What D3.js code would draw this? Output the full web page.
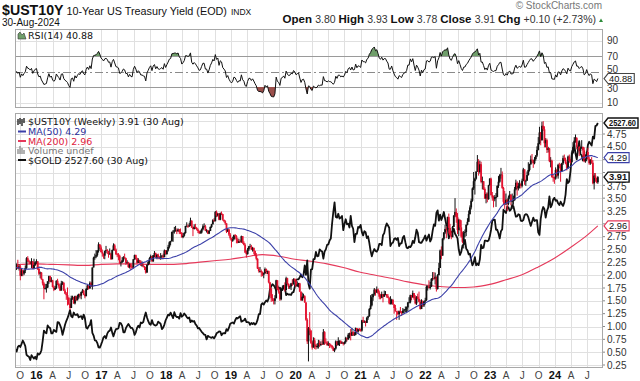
<!DOCTYPE html>
<html><head><meta charset="utf-8">
<script src="https://cdn.jsdelivr.net/npm/d3@7"></script>
<style>body{margin:0;background:#fff}svg{display:block}</style>
</head><body><svg id="c" width="640" height="381"></svg>
<script>
// ---------- DATA ----------
const warmupStart = "2014-09-05";
const warmupCloses = [2.46,2.61,2.58,2.53,2.44,2.31,2.20,2.27,2.34,2.30,2.32,2.31,2.16,2.31,2.08,2.16,2.25,
  2.11,1.95,1.83,1.80,1.64,1.95,2.02,2.13,1.99,2.24,2.11,1.93,1.95,1.84,1.95,1.86,1.91,2.12,2.15,2.14,2.21,2.10,
  2.40,2.39,2.26,2.48,2.38,2.40,2.35,2.26,2.18,2.17,2.19,2.04,2.18];

const yearStarts = ["2015-09-04","2016-01-01","2017-01-06","2018-01-05","2019-01-04","2020-01-03","2021-01-01","2022-01-07","2023-01-06","2024-01-05"];

// $UST10Y weekly [close, high, low]
const ust2015 = [[2.13,2.23,2.12],[2.19,2.23,2.10],[2.13,2.30,2.12],[2.17,2.21,2.09],[1.99,2.20,1.90],[2.09,2.12,1.98],[2.03,2.11,1.98],[2.09,2.10,2.00],[2.14,2.19,2.04],[2.33,2.35,2.12],[2.27,2.37,2.26],[2.26,2.30,2.22],[2.22,2.27,2.21],[2.27,2.33,2.14],[2.13,2.27,2.12],[2.20,2.32,2.16],[2.25,2.27,2.18]];
const ust2016 = [[2.27,2.31,2.22],[2.12,2.27,2.10],[2.03,2.17,2.00],[2.05,2.07,1.94],[1.92,2.06,1.91],[1.84,1.93,1.80],[1.74,1.87,1.53],[1.75,1.83,1.72],[1.76,1.83,1.66],[1.88,1.88,1.75],[1.98,1.99,1.83],[1.87,1.99,1.86],[1.90,1.96,1.86],[1.77,1.91,1.76],[1.72,1.80,1.69],[1.75,1.79,1.71],[1.89,1.90,1.73],[1.83,1.93,1.81],[1.78,1.85,1.74],[1.70,1.80,1.69],[1.84,1.89,1.70],[1.85,1.88,1.81],[1.70,1.87,1.69],[1.64,1.73,1.63],[1.61,1.67,1.52],[1.56,1.76,1.41],[1.44,1.57,1.42],[1.36,1.45,1.32],[1.55,1.60,1.36],[1.57,1.60,1.52],[1.45,1.58,1.44],[1.59,1.60,1.43],[1.51,1.60,1.50],[1.58,1.62,1.52],[1.63,1.64,1.54],[1.60,1.64,1.55],[1.67,1.68,1.53],[1.70,1.73,1.65],[1.62,1.72,1.61],[1.59,1.64,1.55],[1.73,1.75,1.59],[1.80,1.81,1.71],[1.74,1.80,1.72],[1.85,1.88,1.74],[1.78,1.87,1.77],[2.15,2.15,1.72],[2.34,2.36,2.15],[2.36,2.42,2.30],[2.39,2.49,2.33],[2.47,2.49,2.36],[2.60,2.64,2.44],[2.54,2.60,2.50],[2.45,2.58,2.44]];
const ust2017 = [[2.42,2.50,2.36],[2.38,2.41,2.32],[2.47,2.48,2.31],[2.49,2.57,2.43],[2.47,2.51,2.41],[2.41,2.47,2.34],[2.42,2.52,2.40],[2.31,2.44,2.30],[2.49,2.50,2.31],[2.58,2.62,2.48],[2.50,2.61,2.47],[2.41,2.52,2.39],[2.40,2.43,2.35],[2.38,2.43,2.29],[2.24,2.40,2.22],[2.25,2.27,2.17],[2.29,2.35,2.24],[2.35,2.37,2.26],[2.33,2.42,2.32],[2.24,2.34,2.20],[2.25,2.29,2.22],[2.16,2.26,2.14],[2.21,2.23,2.13],[2.16,2.23,2.10],[2.15,2.19,2.13],[2.31,2.31,2.13],[2.39,2.40,2.30],[2.33,2.40,2.30],[2.24,2.34,2.22],[2.29,2.33,2.24],[2.26,2.30,2.23],[2.19,2.29,2.18],[2.19,2.27,2.17],[2.17,2.23,2.15],[2.16,2.18,2.10],[2.05,2.16,2.03],[2.20,2.21,2.05],[2.26,2.29,2.19],[2.33,2.35,2.22],[2.37,2.40,2.32],[2.27,2.37,2.26],[2.39,2.39,2.26],[2.43,2.47,2.35],[2.34,2.44,2.33],[2.40,2.41,2.31],[2.35,2.42,2.31],[2.34,2.37,2.31],[2.36,2.43,2.30],[2.38,2.39,2.31],[2.35,2.42,2.33],[2.48,2.50,2.35],[2.41,2.49,2.40]];
const ust2018 = [[2.48,2.49,2.40],[2.55,2.59,2.46],[2.64,2.66,2.52],[2.66,2.67,2.58],[2.84,2.85,2.66],[2.85,2.88,2.65],[2.87,2.94,2.81],[2.87,2.96,2.85],[2.86,2.91,2.80],[2.89,2.91,2.84],[2.84,2.90,2.80],[2.82,2.91,2.80],[2.74,2.84,2.73],[2.77,2.82,2.72],[2.82,2.84,2.75],[2.96,2.96,2.81],[2.96,3.03,2.95],[2.95,2.99,2.92],[2.97,3.02,2.94],[3.06,3.12,2.96],[2.93,3.07,2.92],[2.90,2.95,2.76],[2.94,2.99,2.89],[2.92,3.00,2.90],[2.89,2.94,2.87],[2.86,2.91,2.82],[2.82,2.87,2.80],[2.83,2.87,2.81],[2.89,2.91,2.81],[2.95,2.99,2.87],[2.95,3.01,2.93],[2.87,2.98,2.86],[2.87,2.90,2.83],[2.81,2.88,2.80],[2.86,2.88,2.80],[2.94,2.95,2.86],[2.99,3.00,2.92],[3.07,3.09,2.99],[3.05,3.11,3.04],[3.23,3.25,3.05],[3.16,3.26,3.13],[3.20,3.21,3.14],[3.08,3.20,3.07],[3.21,3.22,3.07],[3.19,3.24,3.17],[3.08,3.19,3.06],[3.05,3.08,3.03],[3.01,3.07,2.98],[2.85,3.00,2.82],[2.89,2.92,2.84],[2.79,2.90,2.76],[2.72,2.82,2.69]];
const ust2019 = [[2.67,2.73,2.54],[2.70,2.75,2.65],[2.78,2.79,2.68],[2.76,2.80,2.71],[2.69,2.78,2.62],[2.63,2.72,2.62],[2.66,2.71,2.63],[2.65,2.69,2.63],[2.76,2.77,2.63],[2.63,2.76,2.61],[2.59,2.66,2.58],[2.44,2.62,2.43],[2.41,2.48,2.34],[2.50,2.53,2.40],[2.56,2.57,2.47],[2.56,2.61,2.55],[2.50,2.59,2.49],[2.53,2.55,2.46],[2.47,2.54,2.41],[2.39,2.48,2.37],[2.32,2.43,2.29],[2.13,2.33,2.12],[2.08,2.16,2.05],[2.08,2.16,2.05],[2.06,2.11,1.97],[2.01,2.07,1.98],[2.04,2.05,1.94],[2.12,2.15,2.02],[2.06,2.13,2.02],[2.08,2.09,2.02],[1.86,2.09,1.84],[1.74,1.87,1.59],[1.55,1.75,1.48],[1.52,1.63,1.49],[1.50,1.55,1.43],[1.55,1.61,1.43],[1.90,1.91,1.55],[1.72,1.90,1.71],[1.68,1.76,1.64],[1.53,1.69,1.50],[1.73,1.76,1.51],[1.75,1.80,1.70],[1.80,1.81,1.73],[1.71,1.86,1.68],[1.94,1.97,1.71],[1.83,1.95,1.80],[1.77,1.84,1.73],[1.78,1.80,1.73],[1.84,1.85,1.71],[1.82,1.92,1.79],[1.92,1.94,1.84],[1.88,1.94,1.86]];
const ust2020 = [[1.79,1.92,1.77],[1.82,1.88,1.77],[1.84,1.85,1.76],[1.68,1.85,1.67],[1.51,1.68,1.50],[1.58,1.66,1.50],[1.59,1.64,1.55],[1.47,1.61,1.46],[1.13,1.47,1.11],[0.71,1.16,0.66],[0.96,0.99,0.32],[0.92,1.28,0.83],[0.68,0.93,0.66],[0.59,0.71,0.55],[0.73,0.79,0.59],[0.65,0.78,0.56],[0.60,0.65,0.55],[0.62,0.67,0.57],[0.68,0.74,0.57],[0.64,0.73,0.60],[0.66,0.71,0.62],[0.65,0.73,0.64],[0.89,0.95,0.65],[0.70,0.91,0.64],[0.69,0.77,0.66],[0.64,0.72,0.62],[0.67,0.71,0.62],[0.64,0.68,0.58],[0.63,0.66,0.59],[0.59,0.63,0.56],[0.53,0.61,0.52],[0.57,0.58,0.50],[0.71,0.73,0.55],[0.64,0.70,0.62],[0.72,0.79,0.63],[0.72,0.73,0.62],[0.67,0.73,0.66],[0.69,0.71,0.66],[0.66,0.69,0.63],[0.70,0.71,0.65],[0.78,0.80,0.67],[0.75,0.78,0.71],[0.84,0.87,0.74],[0.87,0.88,0.77],[0.82,0.95,0.73],[0.89,0.97,0.84],[0.83,0.91,0.82],[0.84,0.89,0.82],[0.97,0.98,0.83],[0.90,0.96,0.88],[0.95,0.96,0.88],[0.94,0.97,0.91]];
const ust2021 = [[0.92,0.96,0.90],[1.12,1.13,0.90],[1.09,1.19,1.07],[1.09,1.12,1.07],[1.07,1.11,1.00],[1.17,1.19,1.07],[1.20,1.21,1.13],[1.34,1.36,1.19],[1.41,1.61,1.33],[1.57,1.63,1.39],[1.63,1.64,1.50],[1.72,1.75,1.60],[1.66,1.72,1.60],[1.72,1.78,1.66],[1.66,1.74,1.63],[1.58,1.70,1.53],[1.56,1.63,1.53],[1.63,1.68,1.55],[1.58,1.63,1.47],[1.63,1.70,1.58],[1.63,1.69,1.61],[1.59,1.63,1.56],[1.56,1.63,1.55],[1.45,1.57,1.43],[1.45,1.59,1.43],[1.52,1.54,1.43],[1.43,1.53,1.42],[1.36,1.43,1.25],[1.30,1.42,1.29],[1.28,1.30,1.13],[1.24,1.31,1.22],[1.30,1.31,1.13],[1.28,1.38,1.26],[1.26,1.30,1.21],[1.31,1.36,1.25],[1.33,1.34,1.26],[1.34,1.39,1.28],[1.37,1.39,1.26],[1.47,1.47,1.29],[1.47,1.57,1.46],[1.61,1.62,1.45],[1.57,1.61,1.51],[1.65,1.70,1.56],[1.55,1.65,1.52],[1.45,1.61,1.43],[1.58,1.59,1.42],[1.54,1.64,1.53],[1.48,1.68,1.47],[1.34,1.52,1.33],[1.48,1.53,1.36],[1.41,1.51,1.38],[1.49,1.50,1.38],[1.51,1.56,1.43]];
const ust2022 = [[1.77,1.80,1.50],[1.78,1.80,1.70],[1.75,1.90,1.74],[1.78,1.87,1.72],[1.93,1.94,1.77],[1.94,2.06,1.89],[1.93,2.06,1.91],[1.97,2.05,1.82],[1.73,1.86,1.68],[2.00,2.02,1.72],[2.14,2.24,2.00],[2.48,2.50,2.15],[2.38,2.56,2.31],[2.71,2.72,2.38],[2.83,2.84,2.68],[2.90,2.98,2.80],[2.89,2.94,2.72],[3.13,3.14,2.88],[2.92,3.20,2.81],[2.78,3.00,2.77],[2.74,2.86,2.70],[2.94,2.96,2.74],[3.16,3.17,2.96],[3.23,3.50,3.13],[3.13,3.30,3.02],[2.88,3.21,2.80],[3.08,3.10,2.76],[2.93,3.07,2.86],[2.75,3.07,2.73],[2.65,2.85,2.62],[2.83,2.86,2.52],[2.84,2.89,2.74],[2.98,2.99,2.76],[3.04,3.11,2.97],[3.19,3.26,3.04],[3.32,3.36,3.18],[3.45,3.49,3.28],[3.69,3.71,3.43],[3.83,4.01,3.66],[3.88,3.90,3.57],[4.02,4.02,3.86],[4.21,4.34,4.01],[4.01,4.26,3.94],[4.16,4.23,3.98],[3.82,4.21,3.79],[3.83,3.92,3.67],[3.68,3.83,3.66],[3.49,3.71,3.49],[3.58,3.61,3.40],[3.48,3.61,3.42],[3.75,3.76,3.47],[3.88,3.89,3.74]];
const ust2023 = [[3.56,3.90,3.55],[3.51,3.62,3.45],[3.48,3.55,3.32],[3.52,3.56,3.44],[3.52,3.60,3.33],[3.74,3.75,3.52],[3.82,3.93,3.70],[3.95,3.97,3.80],[3.96,4.09,3.88],[3.70,4.02,3.68],[3.43,3.72,3.37],[3.38,3.64,3.29],[3.47,3.59,3.37],[3.39,3.48,3.25],[3.51,3.55,3.36],[3.57,3.64,3.48],[3.44,3.57,3.36],[3.44,3.59,3.29],[3.46,3.55,3.37],[3.67,3.72,3.45],[3.80,3.86,3.65],[3.69,3.83,3.55],[3.74,3.80,3.65],[3.77,3.85,3.69],[3.74,3.80,3.69],[3.84,3.88,3.71],[4.06,4.09,3.83],[3.83,4.05,3.76],[3.84,3.86,3.74],[3.95,4.02,3.84],[4.05,4.20,3.94],[4.16,4.17,4.02],[4.25,4.33,4.15],[4.24,4.36,4.18],[4.18,4.24,4.09],[4.26,4.30,4.16],[4.33,4.34,4.23],[4.44,4.51,4.30],[4.57,4.69,4.43],[4.78,4.89,4.55],[4.63,4.79,4.53],[4.91,4.99,4.62],[4.84,5.00,4.81],[4.57,4.90,4.49],[4.63,4.67,4.49],[4.44,4.66,4.38],[4.47,4.50,4.39],[4.22,4.48,4.20],[4.23,4.30,4.10],[3.91,4.25,3.90],[3.90,3.97,3.82],[3.88,3.92,3.78]];
const ust2024 = [[4.05,4.10,3.86],[3.94,4.07,3.91],[4.15,4.17,3.88],[4.14,4.19,4.08],[4.02,4.17,3.82],[4.18,4.19,4.02],[4.28,4.33,4.15],[4.25,4.35,4.22],[4.18,4.29,4.16],[4.08,4.21,4.04],[4.31,4.33,4.08],[4.22,4.35,4.19],[4.20,4.26,4.18],[4.39,4.43,4.20],[4.50,4.59,4.38],[4.62,4.69,4.50],[4.67,4.74,4.58],[4.50,4.69,4.45],[4.50,4.53,4.42],[4.42,4.51,4.32],[4.47,4.50,4.38],[4.50,4.63,4.46],[4.43,4.49,4.28],[4.22,4.49,4.20],[4.26,4.28,4.19],[4.40,4.41,4.22],[4.27,4.48,4.25],[4.18,4.31,4.15],[4.24,4.26,4.15],[4.19,4.30,4.17],[3.79,4.24,3.77],[3.94,3.99,3.67],[3.89,3.99,3.82],[3.81,3.90,3.79],[3.91,3.93,3.78]];

// $GOLD weekly closes (overlay, same weeks)
const gold2015 = [1121,1108,1137,1145,1137,1156,1177,1162,1142,1088,1081,1076,1056,1086,1075,1065,1076];
const gold2016 = [1061,1097,1090,1097,1117,1173,1239,1227,1222,1271,1259,1255,1221,1222,1243,1235,1231,1291,1290,1273,1252,1213,1243,1275,1298,1316,1339,1366,1328,1322,1351,1336,1336,1341,1321,1326,1328,1310,1338,1316,1257,1251,1267,1274,1304,1225,1208,1178,1177,1161,1134,1133,1152];
const gold2017 = [1173,1197,1205,1191,1220,1234,1238,1258,1226,1203,1229,1248,1249,1254,1287,1284,1268,1228,1228,1254,1268,1280,1267,1255,1256,1242,1212,1228,1255,1269,1258,1289,1285,1292,1325,1351,1320,1297,1280,1275,1304,1280,1272,1270,1275,1294,1288,1280,1248,1257,1276,1303];
const gold2018 = [1320,1338,1333,1350,1333,1316,1353,1330,1323,1324,1313,1347,1325,1332,1345,1335,1323,1315,1320,1291,1302,1294,1298,1279,1270,1253,1256,1242,1231,1223,1214,1212,1184,1206,1201,1197,1194,1199,1191,1203,1222,1227,1234,1233,1210,1222,1223,1222,1248,1238,1257,1281];
const gold2019 = [1286,1289,1282,1303,1318,1314,1322,1328,1294,1299,1302,1313,1292,1291,1290,1275,1286,1280,1286,1276,1284,1305,1341,1341,1400,1409,1400,1415,1426,1419,1440,1497,1513,1527,1520,1507,1488,1517,1497,1505,1489,1490,1505,1511,1459,1468,1462,1464,1460,1476,1478,1511];
const gold2020 = [1552,1557,1557,1571,1587,1570,1584,1643,1585,1674,1530,1499,1617,1620,1683,1683,1727,1700,1702,1743,1735,1730,1685,1730,1743,1771,1774,1798,1810,1902,1975,2035,1944,1940,1964,1934,1940,1950,1862,1900,1930,1899,1902,1879,1951,1889,1871,1788,1839,1840,1882,1878];
const gold2021 = [1895,1850,1829,1856,1850,1813,1824,1784,1734,1700,1727,1745,1733,1729,1744,1777,1777,1769,1831,1844,1881,1904,1891,1877,1764,1781,1784,1808,1812,1802,1814,1763,1780,1781,1817,1827,1788,1754,1750,1761,1757,1768,1796,1783,1818,1865,1846,1788,1784,1784,1798,1811,1829];
const gold2022 = [1797,1818,1835,1792,1808,1859,1898,1889,1969,1985,1921,1958,1925,1946,1975,1934,1897,1883,1811,1846,1853,1851,1871,1840,1827,1811,1742,1708,1727,1766,1775,1802,1747,1737,1712,1716,1675,1644,1661,1695,1644,1656,1645,1681,1771,1751,1754,1797,1797,1793,1798,1824];
const gold2023 = [1865,1920,1926,1928,1865,1865,1842,1811,1856,1868,1989,1978,1969,2008,2004,1983,1990,2017,2011,1978,1946,1948,1961,1958,1921,1919,1925,1955,1962,1959,1943,1914,1889,1915,1940,1919,1924,1925,1849,1833,1932,1981,2006,1992,1940,1981,2002,2072,2004,2019,2053,2063];
const gold2024 = [2045,2049,2029,2018,2039,2024,2013,2035,2083,2179,2155,2165,2230,2330,2344,2392,2338,2302,2360,2415,2334,2327,2294,2333,2322,2327,2392,2411,2400,2387,2443,2431,2508,2512,2527.6];

// MA(200) at quarter ends
const ma200Dates = ["2015-09-04","2015-12-31","2016-03-31","2016-06-30","2016-09-30","2016-12-30","2017-03-31","2017-06-30","2017-09-29","2017-12-29","2018-03-30","2018-06-29","2018-09-28","2018-12-28","2019-03-29","2019-06-28","2019-09-27","2019-12-27","2020-03-27","2020-06-26","2020-09-25","2020-12-25","2021-03-26","2021-06-25","2021-09-24","2021-12-31","2022-03-25","2022-06-24","2022-09-30","2022-12-30","2023-03-31","2023-06-30","2023-09-29","2023-12-29","2024-03-29","2024-06-28","2024-08-30"];
const ma200Values = [2.20,2.22,2.21,2.20,2.19,2.21,2.22,2.22,2.21,2.21,2.22,2.25,2.28,2.31,2.36,2.40,2.37,2.31,2.27,2.22,2.15,2.06,2.00,1.94,1.87,1.81,1.78,1.76,1.77,1.82,1.91,2.01,2.16,2.33,2.54,2.77,2.96];

const yTicks = [0.25,0.50,0.75,1.00,1.25,1.50,1.75,2.00,2.25,2.50,2.75,3.00,3.25,3.50,3.75,4.00,4.25,4.50,4.75,5.00];
const rsiTicks = [10,30,50,70,90];
const quarterTicks = ["2015-10-01","2016-01-01","2016-04-01","2016-07-01","2016-10-01","2017-01-01","2017-04-01","2017-07-01","2017-10-01","2018-01-01","2018-04-01","2018-07-01","2018-10-01","2019-01-01","2019-04-01","2019-07-01","2019-10-01","2020-01-01","2020-04-01","2020-07-01","2020-10-01","2021-01-01","2021-04-01","2021-07-01","2021-10-01","2022-01-01","2022-04-01","2022-07-01","2022-10-01","2023-01-01","2023-04-01","2023-07-01","2023-10-01","2024-01-01","2024-04-01","2024-07-01"];

const lastClose = 3.91, lastMA50 = 4.29, lastMA200 = 2.96, lastGold = 2527.60, lastRSI = 40.88;

// ---------- BUILD ----------
const parse = d3.utcParse("%Y-%m-%d");
const ustYears = [ust2015,ust2016,ust2017,ust2018,ust2019,ust2020,ust2021,ust2022,ust2023,ust2024];
const goldYears = [gold2015,gold2016,gold2017,gold2018,gold2019,gold2020,gold2021,gold2022,gold2023,gold2024];
const bars = [];
let prev = warmupCloses[warmupCloses.length-1];
ustYears.forEach((arr,k)=>{
  const s = parse(yearStarts[k]);
  arr.forEach((d,i)=>{
    bars.push({date:d3.utcDay.offset(s,7*i), o:prev, c:d[0], h:d[1], l:d[2], g:goldYears[k][i]});
    prev = d[0];
  });
});
const allCloses = warmupCloses.concat(bars.map(b=>b.c));
const W = warmupCloses.length;
bars.forEach((b,j)=>{ const idx=W+j; b.ma50 = d3.mean(allCloses.slice(idx-49, idx+1)); });
(function(){
  let ag=0, al=0;
  const rsi = new Array(allCloses.length).fill(null);
  for(let i=1;i<allCloses.length;i++){
    const ch = allCloses[i]-allCloses[i-1];
    const g = Math.max(ch,0), l = Math.max(-ch,0);
    if(i<=14){ ag+=g/14; al+=l/14; if(i===14) rsi[i]=100-100/(1+ag/al); }
    else { ag=(ag*13+g)/14; al=(al*13+l)/14; rsi[i]= al===0?100:100-100/(1+ag/al); }
  }
  bars.forEach((b,j)=>{ b.rsi = rsi[W+j]; });
})();
const ma200 = ma200Dates.map((d,i)=>({date:parse(d), v:ma200Values[i]}));

// ---------- DRAW ----------
const svg = d3.select("#c");
const L=15, R=603;
const rTop=29, rBot=108, mTop=113, mBot=368;
const x = d3.scaleUtc().domain([parse("2015-09-02"), parse("2024-09-28")]).range([L,R]);
const y = d3.scaleLinear().domain([0.25,4.75]).range([365,134]);
const yR = d3.scaleLinear().domain([30,70]).range([87,56]);
const yG = d3.scaleLinear().domain([1050,2527.6]).range([361,123]);

const defs = svg.append("defs");
defs.append("clipPath").attr("id","clipM").append("rect").attr("x",L).attr("y",mTop).attr("width",R-L).attr("height",mBot-mTop);
defs.append("clipPath").attr("id","clipR").append("rect").attr("x",L).attr("y",rTop).attr("width",R-L).attr("height",rBot-rTop);
defs.append("clipPath").attr("id","clipHi").append("rect").attr("x",L).attr("y",rTop).attr("width",R-L).attr("height",yR(70)-rTop);
defs.append("clipPath").attr("id","clipLo").append("rect").attr("x",L).attr("y",yR(30)).attr("width",R-L).attr("height",rBot-yR(30));

const font = "'Liberation Sans', Arial, sans-serif";
const lfont = "'DejaVu Sans', Verdana, sans-serif";
const qdates = quarterTicks.map(parse);

[[rTop,rBot],[mTop,mBot]].forEach(([t,b])=>{
  svg.append("rect").attr("x",L).attr("y",t).attr("width",R-L).attr("height",b-t).attr("fill","#fff");
  svg.append("g").selectAll("line").data(qdates).join("line")
    .attr("x1",d=>Math.round(x(d))+0.5).attr("x2",d=>Math.round(x(d))+0.5).attr("y1",t).attr("y2",b)
    .attr("stroke","#e0e0e0").attr("stroke-width",1);
});
svg.append("g").selectAll("line").data(yTicks).join("line")
  .attr("x1",L).attr("x2",R).attr("y1",d=>Math.round(y(d))+0.5).attr("y2",d=>Math.round(y(d))+0.5)
  .attr("stroke","#e0e0e0");
svg.append("g").selectAll("line").data([10,90]).join("line")
  .attr("x1",L).attr("x2",R).attr("y1",d=>Math.round(yR(d))+0.5).attr("y2",d=>Math.round(yR(d))+0.5)
  .attr("stroke","#e0e0e0");
svg.append("g").selectAll("line").data([30,70]).join("line")
  .attr("x1",L).attr("x2",R).attr("y1",d=>Math.round(yR(d))+0.5).attr("y2",d=>Math.round(yR(d))+0.5)
  .attr("stroke","#9a9a9a");
svg.append("line").attr("x1",L).attr("x2",R).attr("y1",Math.round(yR(50))+0.5).attr("y2",Math.round(yR(50))+0.5)
  .attr("stroke","#8a8a8a").attr("stroke-dasharray","8,3,2,3");

// RSI
const rsiBars = bars.filter(b=>b.rsi!=null);
const gR = svg.append("g").attr("clip-path","url(#clipR)");
gR.append("g").attr("clip-path","url(#clipHi)").append("path").datum(rsiBars)
  .attr("d", d3.area().x(b=>x(b.date)).y0(yR(70)).y1(b=>yR(b.rsi)))
  .attr("fill","#6f9e6a");
gR.append("g").attr("clip-path","url(#clipLo)").append("path").datum(rsiBars)
  .attr("d", d3.area().x(b=>x(b.date)).y0(yR(30)).y1(b=>yR(b.rsi)))
  .attr("fill","#9b4f4b");
gR.append("path").datum(rsiBars).attr("d", d3.line().x(b=>x(b.date)).y(b=>yR(b.rsi)))
  .attr("fill","none").attr("stroke","#111").attr("stroke-width",1);

// main panel
const gM = svg.append("g").attr("clip-path","url(#clipM)");
gM.append("path").datum(ma200).attr("d", d3.line().curve(d3.curveMonotoneX).x(d=>x(d.date)).y(d=>y(d.v)))
  .attr("fill","none").attr("stroke","#e5395a").attr("stroke-width",1.1);
gM.append("path").datum(bars).attr("d", d3.line().x(b=>x(b.date)).y(b=>yG(b.g)))
  .attr("fill","none").attr("stroke","#111").attr("stroke-width",1.8).attr("stroke-linejoin","round");
const candles = gM.append("g");
candles.selectAll("line").data(bars).join("line")
  .attr("x1",b=>x(b.date)).attr("x2",b=>x(b.date))
  .attr("y1",b=>y(Math.max(b.h,b.o,b.c))).attr("y2",b=>y(Math.min(b.l,b.o,b.c)))
  .attr("stroke",b=>b.c<b.o?"#e3122f":"#111").attr("stroke-width",1);
candles.selectAll("rect").data(bars).join("rect")
  .attr("x",b=>x(b.date)-0.9).attr("width",1.8)
  .attr("y",b=>y(Math.max(b.o,b.c))).attr("height",b=>Math.max(0.8, Math.abs(y(b.o)-y(b.c))))
  .attr("fill",b=>b.c<b.o?"#e3122f":"#111");
gM.append("path").datum(bars).attr("d", d3.line().x(b=>x(b.date)).y(b=>y(b.ma50)))
  .attr("fill","none").attr("stroke","#3a3fa8").attr("stroke-width",1.1);

[[rTop,rBot],[mTop,mBot]].forEach(([t,b])=>{
  svg.append("rect").attr("x",L+0.5).attr("y",t+0.5).attr("width",R-L-1).attr("height",b-t-1)
    .attr("fill","none").attr("stroke","#a8a8a8");
});

const tags = [
  {v:lastGold, yy:yG(lastGold), color:"#111", bold:true},
  {v:lastMA50, yy:y(lastMA50), color:"#3a3fa8", bold:false},
  {v:lastClose, yy:y(lastClose), color:"#111", bold:true},
  {v:lastMA200, yy:y(lastMA200), color:"#e5395a", bold:false},
  {v:lastRSI, yy:yR(lastRSI), color:"#444", bold:false}
];
const mainTagYs = tags.slice(0,4).map(t=>t.yy);

// right axes
const ax = svg.append("g").attr("font-family",font).attr("font-size",10).attr("fill","#333");
const shownY = yTicks.filter(v=>v<=4.75 && mainTagYs.every(t=>Math.abs(y(v)-t)>7));
ax.selectAll("text.m").data(shownY).join("text").attr("class","m")
  .attr("x",R+4).attr("y",d=>y(d)+(d===3.75?4.8:3.5)).text(d=>d3.format(".2f")(d));
ax.selectAll("line.m").data(yTicks.filter(v=>v<=4.75)).join("line").attr("class","m")
  .attr("x1",R).attr("x2",R+2).attr("y1",d=>y(d)).attr("y2",d=>y(d)).attr("stroke","#888");
ax.selectAll("text.r").data(rsiTicks).join("text").attr("class","r")
  .attr("x",R+4).attr("y",d=>yR(d)+(d===50?1.8:d===30?4.8:3.5)).text(d=>d);

tags.forEach(t=>{
  const g = svg.append("g");
  const txt = d3.format(".2f")(t.v);
  const tx = g.append("text").attr("x",R+6).attr("y",t.yy+3.3).attr("font-family",font).attr("font-size",9.3)
    .attr("font-weight",t.bold?"bold":"normal").attr("fill","#111").text(txt);
  let w = tx.node().getComputedTextLength();
  if (R+6+w > 636) { tx.attr("textLength", 636-R-6).attr("lengthAdjust","spacingAndGlyphs"); w = 636-R-6; }
  const h=10, x0=R+1;
  const xe = Math.min(R+8+w, 639);
  g.insert("path","text").attr("d",`M${x0},${t.yy} L${x0+4},${t.yy-h/2} L${xe},${t.yy-h/2} L${xe},${t.yy+h/2} L${x0+4},${t.yy+h/2} Z`)
    .attr("fill","#fff").attr("stroke",t.color).attr("stroke-width",t.bold?1.4:1.1);
});

// x axis labels
svg.append("g").selectAll("text").data(qdates).join("text")
  .attr("x",d=>x(d)).attr("y",379).attr("text-anchor","middle")
  .attr("font-family",font)
  .attr("font-size",d=>d.getUTCMonth()===0?11:10)
  .attr("font-weight",d=>d.getUTCMonth()===0?"bold":"normal")
  .attr("fill",d=>d.getUTCMonth()===0?"#111":"#444")
  .text(d=>d.getUTCMonth()===0?d3.utcFormat("%y")(d):d3.utcFormat("%b")(d)[0]);

// header
const hd = svg.append("g").attr("font-family",font).attr("fill","#111");
const t1 = hd.append("text").attr("x",2).attr("y",15).attr("font-size",14.2).attr("font-weight","bold").text("$UST10Y");
const w1 = t1.node().getComputedTextLength();
const t2 = hd.append("text").attr("x",2+w1+3).attr("y",15).attr("font-size",10.8).text("10-Year US Treasury Yield (EOD)");
const w2 = t2.node().getComputedTextLength();
hd.append("text").attr("x",2+w1+3+w2+4).attr("y",15).attr("font-size",8.5).text("INDX");
hd.append("text").attr("x",2).attr("y",26).attr("font-size",10).text("30-Aug-2024");
hd.append("text").attr("x",602).attr("y",9).attr("text-anchor","end").attr("font-size",10).attr("fill","#777").text("© StockCharts.com");
const ohlc = hd.append("text").attr("x",596).attr("y",23).attr("text-anchor","end").attr("font-size",10.5);
[["Open ","3.80 "],["High ","3.93 "],["Low ","3.78 "],["Close ","3.91 "],["Chg ","+0.10 (+2.73%)"]].forEach(([a,b])=>{
  ohlc.append("tspan").attr("font-weight","bold").attr("font-size",11.5).text(a);
  ohlc.append("tspan").attr("font-size",10.5).attr("fill","#333").text(b);
});
svg.append("path").attr("d","M599,22 L603,22 L601,18.5 Z").attr("fill","#2e8b3a");

// legends
const lg = svg.append("g").attr("font-family",lfont).attr("font-size",9.5).attr("fill","#111");
svg.append("path").attr("d","M18,39 L18,34 L20,32 L22,35 L24,33 L26,39 Z").attr("fill","#6f9e6a").attr("stroke","#333").attr("stroke-width",0.6);
lg.append("text").attr("x",28).attr("y",39).text("RSI(14) " + d3.format(".2f")(lastRSI));
svg.append("path").attr("d","M18,119 L18,125 M20,118 L20,124 M22,119 L22,126 M24,118 L24,123").attr("stroke","#111").attr("stroke-width",1.3);
lg.append("text").attr("x",28).attr("y",125).text("$UST10Y (Weekly) 3.91 (30 Aug)");
svg.append("line").attr("x1",18).attr("x2",26).attr("y1",131.5).attr("y2",131.5).attr("stroke","#3a3fa8").attr("stroke-width",2);
lg.append("text").attr("x",28).attr("y",135).attr("fill","#2a2f9a").text("MA(50) 4.29");
svg.append("line").attr("x1",18).attr("x2",26).attr("y1",141).attr("y2",141).attr("stroke","#e5395a").attr("stroke-width",2);
lg.append("text").attr("x",28).attr("y",144.5).attr("fill","#e02040").text("MA(200) 2.96");
svg.append("path").attr("d","M18,154 L18,149 M20,154 L20,146 M22,154 L22,148 M24,154 L24,150").attr("stroke","#888").attr("stroke-width",1.3);
lg.append("text").attr("x",28).attr("y",154).attr("fill","#777").text("Volume undef");
svg.append("line").attr("x1",18).attr("x2",26).attr("y1",160).attr("y2",160).attr("stroke","#111").attr("stroke-width",2);
lg.append("text").attr("x",28).attr("y",163.5).text("$GOLD 2527.60 (30 Aug)");
</script></body></html>
